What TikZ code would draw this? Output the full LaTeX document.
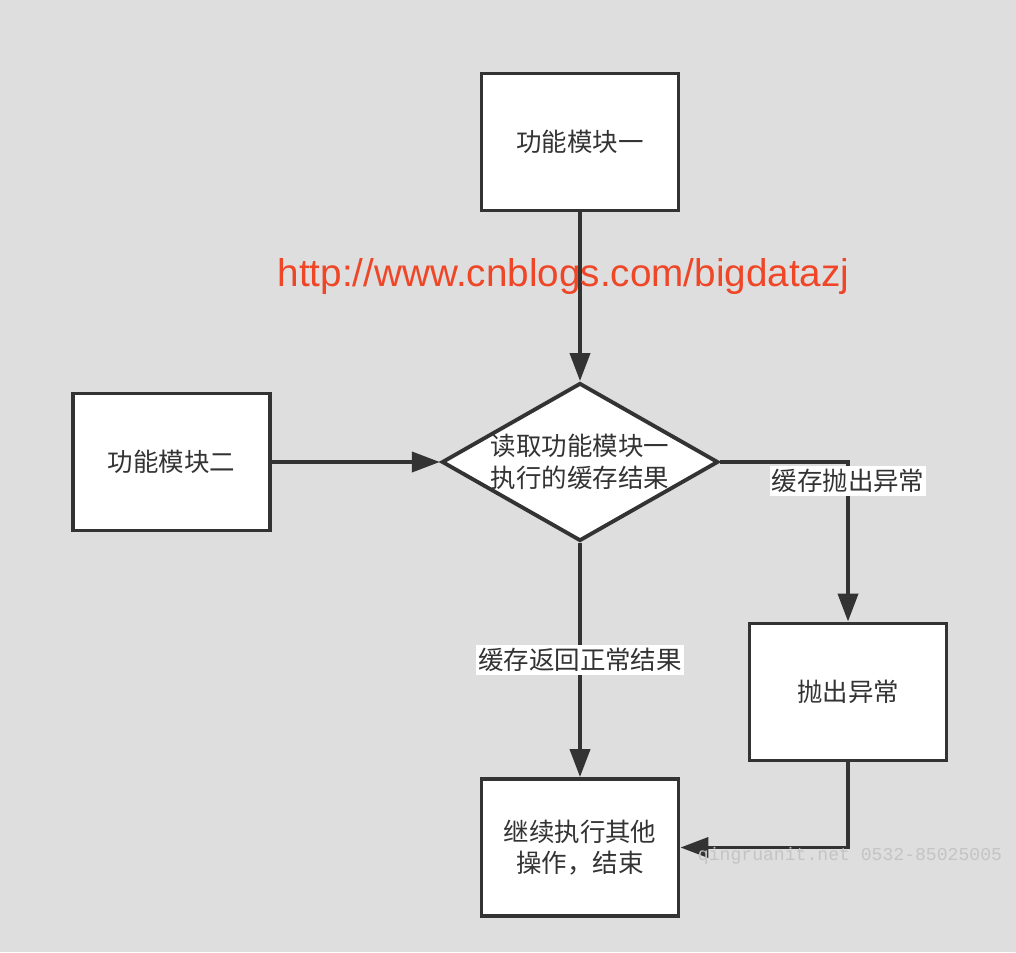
\documentclass[tikz,border=0pt]{standalone}
\usepackage{fontspec}
\usepackage{xcolor}
\usepackage{tikz}
\usetikzlibrary{shapes.geometric,arrows.meta}
\newfontfamily\cjk{Noto Sans CJK SC}
\newfontfamily\urlfont{Liberation Sans}
\newfontfamily\markfont{Liberation Mono}
\definecolor{PageGray}{RGB}{222,222,222}
\definecolor{LineDark}{RGB}{51,51,51}
\definecolor{UrlRed}{RGB}{240,70,40}
\definecolor{MarkGray}{RGB}{196,196,196}

\tikzset{
  procbox/.style={draw=LineDark,fill=white,line width=2.2pt,
        minimum width=3.94cm,minimum height=2.74cm,align=center,
        font=\cjk\fontsize{14.5}{18}\selectfont,text=LineDark},
  decbox/.style={diamond,draw=LineDark,fill=white,line width=2.2pt,
        aspect=1.75,inner sep=0pt,minimum width=5.45cm,minimum height=3.1cm,
        align=center,font=\cjk\fontsize{14.5}{18.5}\selectfont,text=LineDark},
  flow/.style={draw=LineDark,line width=2.2pt,
        -{Triangle[length=0.56cm,width=0.4cm]}},
  flowlabel/.style={fill=white,inner xsep=1pt,inner ysep=2pt,
        font=\cjk\fontsize{14.5}{18}\selectfont,text=LineDark}
}

\begin{document}
\begin{tikzpicture}[x=0.02cm,y=-0.02cm]
  \fill[PageGray] (0,0) rectangle (1016,952);
  \useasboundingbox (0,0) rectangle (1016,952);

  % boxes
  \node[procbox] (mod1) at (580,142) {功能模块一};
  \node[procbox] (mod2) at (171.5,462) {功能模块二};
  \node[decbox]  (readcache) at (580,462) {读取功能模块一\\执行的缓存结果};
  \node[procbox] (throw) at (848,692) {抛出异常};
  \node[procbox] (finish) at (580,847.5) {继续执行其他\\操作，结束};

  % connectors
  \draw[flow] (mod1) -- (readcache);
  \draw[flow] (mod2) -- (readcache);
  \draw[flow] (readcache.east) -| (throw.north)
    node[flowlabel,pos=0.5,anchor=north,yshift=-1pt] (errlabel) {缓存抛出异常};
  \draw[flow] (readcache.south) -- node[flowlabel] (oklabel) {缓存返回正常结果} (finish.north);
  \draw[flow] (throw.south) |- (finish.east);

  % watermarks
  \node[text=UrlRed,font=\urlfont\fontsize{22}{26}\selectfont] (url)
    at (563.5,277) {http://www.cnblogs.com/bigdatazj};
  \node[text=MarkGray,font=\markfont\fontsize{10.3}{12}\selectfont] (mark)
    at (850,856) {qingruanit.net 0532-85025005};
\end{tikzpicture}
\end{document}
